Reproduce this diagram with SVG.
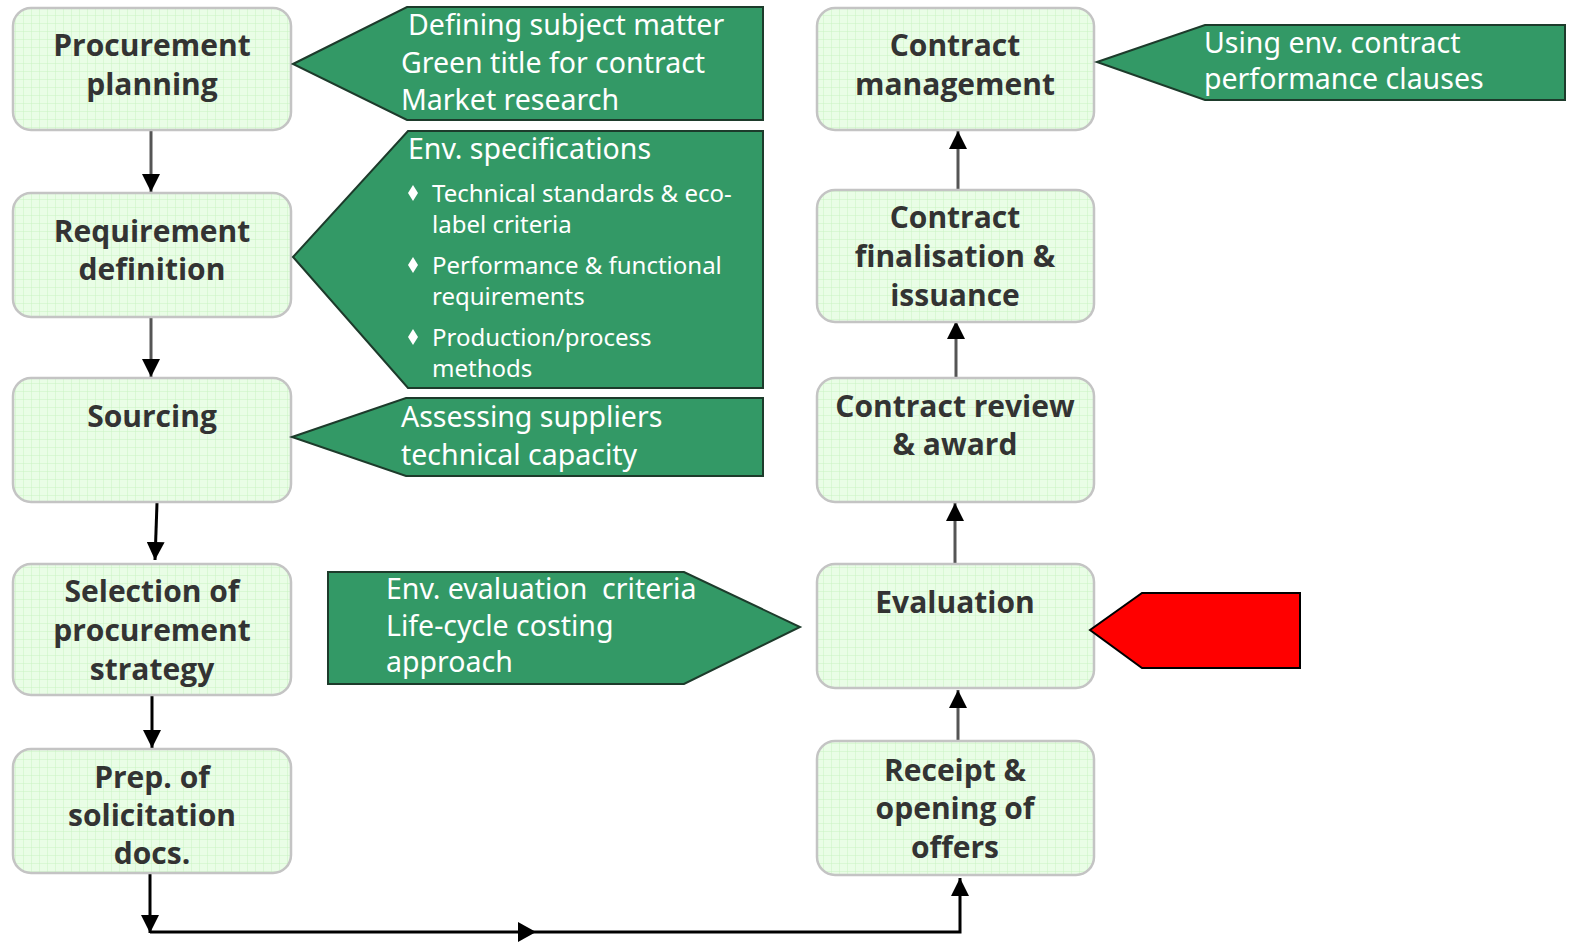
<svg xmlns="http://www.w3.org/2000/svg" width="1570" height="944" viewBox="0 0 1570 944">
<defs>
<pattern id="grid" width="8" height="8" patternUnits="userSpaceOnUse">
<rect width="8" height="8" fill="#e9fde6"/>
<path d="M8 0V8M0 8H8" stroke="#c9f3c3" stroke-width="1" fill="none"/>
</pattern>
<marker id="ah" viewBox="0 0 10 10" refX="10" refY="5" markerWidth="18" markerHeight="18" markerUnits="userSpaceOnUse" orient="auto">
<path d="M0 0L10 5L0 10Z" fill="#000"/>
</marker>
</defs>
<style>
.box{fill:url(#grid);stroke:#c4c4c4;stroke-width:2.5}
.bt{font-family:"Open Sans","Noto Sans",sans-serif;font-weight:700;font-size:30px;fill:#333;text-anchor:middle}
.call{fill:#339966;stroke:#1d3b2b;stroke-width:2}
.ct{font-family:"Noto Sans","Open Sans",sans-serif;font-size:28.5px;fill:#fff;white-space:pre}
.cs{font-family:"Noto Sans","Open Sans",sans-serif;font-size:24px;fill:#fff}
.ln{stroke:#555;stroke-width:3;fill:none}
.lk{stroke:#000;stroke-width:3;fill:none}
</style>
<rect width="1570" height="944" fill="#fff"/>

<g id="connectors">
<line class="ln" x1="151" y1="131" x2="151" y2="192" marker-end="url(#ah)"/>
<line class="ln" x1="151" y1="318" x2="151" y2="377" marker-end="url(#ah)"/>
<line class="lk" x1="157" y1="503" x2="155" y2="560" marker-end="url(#ah)"/>
<line class="lk" x1="152" y1="696" x2="152" y2="748" marker-end="url(#ah)"/>
<line class="lk" x1="150" y1="874" x2="150" y2="933" marker-end="url(#ah)"/>
<polyline class="lk" points="150,932 960,932 960,878" marker-end="url(#ah)"/>
<path d="M518 922L536 932L518 942Z" fill="#000"/>
<line class="ln" x1="958" y1="741" x2="958" y2="690" marker-end="url(#ah)"/>
<line class="ln" x1="955" y1="564" x2="955" y2="503" marker-end="url(#ah)"/>
<line class="ln" x1="956" y1="378" x2="956" y2="321" marker-end="url(#ah)"/>
<line class="ln" x1="958" y1="190" x2="958" y2="131" marker-end="url(#ah)"/>
</g>

<g id="n-planning"><rect class="box" x="13" y="8" width="278" height="122" rx="18"/>
<text class="bt" x="152" y="56">Procurement</text><text class="bt" x="152" y="95">planning</text></g>
<g id="n-requirement"><rect class="box" x="13" y="193" width="278" height="124" rx="18"/>
<text class="bt" x="152" y="242">Requirement</text><text class="bt" x="152" y="280">definition</text></g>
<g id="n-sourcing"><rect class="box" x="13" y="378" width="278" height="124" rx="18"/>
<text class="bt" x="152" y="427">Sourcing</text></g>
<g id="n-selection"><rect class="box" x="13" y="564" width="278" height="131" rx="18"/>
<text class="bt" x="152" y="602">Selection of</text><text class="bt" x="152" y="641">procurement</text><text class="bt" x="152" y="680">strategy</text></g>
<g id="n-prep"><rect class="box" x="13" y="749" width="278" height="124" rx="18"/>
<text class="bt" x="152" y="788">Prep. of</text><text class="bt" x="152" y="826">solicitation</text><text class="bt" x="152" y="864">docs.</text></g>

<g id="n-management"><rect class="box" x="817" y="8" width="277" height="122" rx="18"/>
<text class="bt" x="955" y="56">Contract</text><text class="bt" x="955" y="95">management</text></g>
<g id="n-finalisation"><rect class="box" x="817" y="190" width="277" height="132" rx="18"/>
<text class="bt" x="955" y="228">Contract</text><text class="bt" x="955" y="267">finalisation &amp;</text><text class="bt" x="955" y="306">issuance</text></g>
<g id="n-review"><rect class="box" x="817" y="378" width="277" height="124" rx="18"/>
<text class="bt" x="955" y="417">Contract review</text><text class="bt" x="955" y="455">&amp; award</text></g>
<g id="n-evaluation"><rect class="box" x="817" y="564" width="277" height="124" rx="18"/>
<text class="bt" x="955" y="613">Evaluation</text></g>
<g id="n-receipt"><rect class="box" x="817" y="741" width="277" height="134" rx="18"/>
<text class="bt" x="955" y="781">Receipt &amp;</text><text class="bt" x="955" y="819">opening of</text><text class="bt" x="955" y="858">offers</text></g>

<g id="c-planning"><polygon class="call" points="293,64 407,7 763,7 763,120 407,120"/>
<text class="ct" x="408" y="35">Defining subject matter</text>
<text class="ct" x="401" y="73">Green title for contract</text>
<text class="ct" x="401" y="110">Market research</text></g>
<g id="c-requirement"><polygon class="call" points="293,257 408,131 763,131 763,388 408,388"/>
<text class="ct" x="408" y="159">Env. specifications</text>
<g fill="#fff"><path d="M413 185L418 193L413 201L408 193Z"/><path d="M413 257L418 265L413 273L408 265Z"/><path d="M413 329L418 337L413 345L408 337Z"/></g>
<text class="cs" x="432" y="202">Technical standards &amp; eco-</text>
<text class="cs" x="432" y="233">label criteria</text>
<text class="cs" x="432" y="274">Performance &amp; functional</text>
<text class="cs" x="432" y="305">requirements</text>
<text class="cs" x="432" y="346">Production/process</text>
<text class="cs" x="432" y="377">methods</text></g>
<g id="c-sourcing"><polygon class="call" points="292,437 406,398 763,398 763,476 406,476"/>
<text class="ct" x="401" y="427">Assessing suppliers</text>
<text class="ct" x="401" y="465">technical capacity</text></g>
<g id="c-management"><polygon class="call" points="1097,62 1205,25 1565,25 1565,100 1205,100"/>
<text class="ct" x="1204" y="53">Using env. contract</text>
<text class="ct" x="1204" y="89">performance clauses</text></g>
<g id="c-evaluation"><polygon class="call" points="328,572 684,572 800,627 684,684 328,684"/>
<text class="ct" x="386" y="599">Env. evaluation  criteria</text>
<text class="ct" x="386" y="636">Life-cycle costing</text>
<text class="ct" x="386" y="672">approach</text></g>
<g id="c-red"><polygon points="1090,630 1142,593 1300,593 1300,668 1142,668" fill="#ff0000" stroke="#000" stroke-width="2"/></g>
</svg>
